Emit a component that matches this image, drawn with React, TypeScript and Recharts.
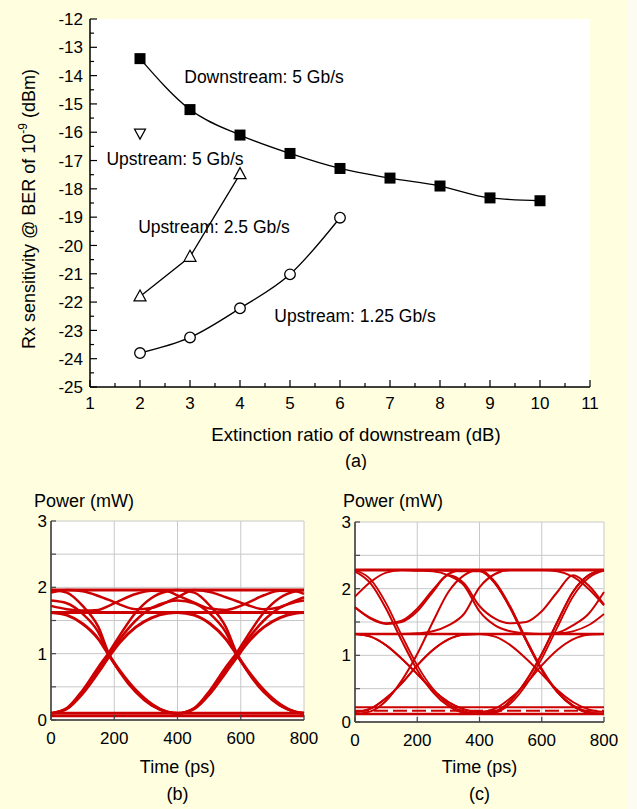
import React from "react";
import {
  ComposedChart,
  LineChart,
  Line,
  XAxis,
  YAxis,
  CartesianGrid,
  ReferenceDot,
  Label,
} from "recharts";

const FONT = '"Liberation Sans", Arial, Helvetica, sans-serif';
const BG = "#FFFFE0";
const RED = "#CC0000";

// ---------- (a) Rx sensitivity vs extinction ratio ----------
const erTicks = [1, 2, 3, 4, 5, 6, 7, 8, 9, 10, 11];
const erMinor = [1.5, 2.5, 3.5, 4.5, 5.5, 6.5, 7.5, 8.5, 9.5, 10.5];
const sensTicks = [-25, -24, -23, -22, -21, -20, -19, -18, -17, -16, -15, -14, -13, -12];
const sensMinor = [-24.5, -23.5, -22.5, -21.5, -20.5, -19.5, -18.5, -17.5, -16.5, -15.5, -14.5, -13.5, -12.5];

const downX = [2, 3, 4, 5, 6, 7, 8, 9, 10];
const down5 = [-13.4, -15.2, -16.1, -16.75, -17.28, -17.62, -17.9, -18.32, -18.42];
const up5X = [2];
const up5 = [-16.05];
const up25X = [2, 3, 4];
const up25 = [-21.8, -20.4, -17.48];
const up125X = [2, 3, 4, 5, 6];
const up125 = [-23.8, -23.25, -22.22, -21.02, -19.02];

// ---------- (b), (c) eye diagrams ----------
const eyeYTicks = [0, 0.5, 1, 1.5, 2, 2.5, 3];
const eyeYMajor = [0, 1, 2, 3];
const eyeXTicks = [0, 200, 400, 600, 800];

const tFlat = [0, 800];
const tB = [0, 50, 100, 150, 183, 218, 268, 318, 368, 400, 453, 503, 553, 588, 623, 673, 723, 773, 800];
const bCap162 = [0.1, 0.17, 0.4, 0.72, 0.95, 1.17, 1.4, 1.54, 1.61, 1.62, 1.58, 1.45, 1.22, 0.98, 0.74, 0.45, 0.24, 0.12, 0.1];
const bCup162 = [1.62, 1.58, 1.45, 1.22, 0.98, 0.74, 0.45, 0.24, 0.12, 0.1, 0.17, 0.4, 0.72, 0.95, 1.17, 1.4, 1.54, 1.61, 1.62];
const bCap196 = [0.1, 0.18, 0.45, 0.8, 1.02, 1.28, 1.62, 1.84, 1.94, 1.96, 1.92, 1.72, 1.4, 1.0, 0.72, 0.42, 0.22, 0.12, 0.1];
const bCup196 = [1.96, 1.92, 1.72, 1.4, 1.0, 0.72, 0.42, 0.22, 0.12, 0.1, 0.18, 0.45, 0.8, 1.02, 1.28, 1.62, 1.84, 1.94, 1.96];
const bCap180 = [0.1, 0.17, 0.42, 0.76, 0.98, 1.22, 1.5, 1.69, 1.78, 1.8, 1.76, 1.6, 1.32, 0.98, 0.73, 0.43, 0.23, 0.12, 0.1];
const bCup180 = [1.8, 1.76, 1.6, 1.32, 0.98, 0.73, 0.43, 0.23, 0.12, 0.1, 0.17, 0.42, 0.76, 0.98, 1.22, 1.5, 1.69, 1.78, 1.8];
const bWaveA = [1.92, 1.96, 1.94, 1.87, 1.81, 1.74, 1.67, 1.69, 1.78, 1.85, 1.96, 1.93, 1.85, 1.79, 1.73, 1.67, 1.7, 1.8, 1.85];
const bWaveB = [1.72, 1.67, 1.65, 1.66, 1.72, 1.8, 1.9, 1.95, 1.94, 1.88, 1.77, 1.68, 1.66, 1.7, 1.77, 1.88, 1.95, 1.94, 1.9];
const bTop = [1.96, 1.96];
const bInner = [1.62, 1.62];
const bLowA = [0.1, 0.1];
const bLowB = [0.06, 0.06];

const tC = [0, 50, 100, 150, 200, 250, 300, 350, 400, 450, 500, 550, 600, 650, 700, 750, 800];
const cCapTop = [0.12, 0.16, 0.32, 0.62, 1.02, 1.5, 1.95, 2.2, 2.28, 2.08, 1.7, 1.22, 0.78, 0.45, 0.24, 0.14, 0.12];
const cCupTop = [2.26, 2.08, 1.7, 1.22, 0.78, 0.45, 0.24, 0.14, 0.12, 0.16, 0.32, 0.62, 1.02, 1.5, 1.95, 2.2, 2.28];
const cCupTop2 = [2.28, 2.14, 1.78, 1.3, 0.85, 0.5, 0.27, 0.16, 0.13, 0.14, 0.28, 0.56, 0.95, 1.42, 1.88, 2.16, 2.27];
const cCapMid = [0.15, 0.2, 0.36, 0.58, 0.85, 1.08, 1.24, 1.31, 1.32, 1.28, 1.15, 0.95, 0.72, 0.48, 0.3, 0.19, 0.15];
const cCupMid = [1.32, 1.28, 1.15, 0.95, 0.72, 0.48, 0.3, 0.19, 0.15, 0.2, 0.36, 0.58, 0.85, 1.08, 1.24, 1.31, 1.32];
const cMidLowTop = [1.32, 1.28, 1.15, 0.95, 0.72, 0.48, 0.3, 0.19, 0.15, 0.16, 0.32, 0.62, 1.02, 1.5, 1.95, 2.2, 2.28];
const cLowMidHold = [0.15, 0.2, 0.36, 0.58, 0.85, 1.08, 1.24, 1.31, 1.32, 1.32, 1.32, 1.32, 1.32, 1.33, 1.36, 1.45, 1.62];
const cArcs = [1.72, 1.55, 1.47, 1.5, 1.66, 1.95, 2.2, 2.08, 1.74, 1.55, 1.48, 1.5, 1.66, 1.95, 2.2, 2.05, 1.76];
const cArcFall = [1.72, 1.56, 1.48, 1.52, 1.7, 1.98, 2.22, 2.28, 2.28, 2.1, 1.72, 1.24, 0.8, 0.46, 0.25, 0.15, 0.12];
const cMidUp = [1.32, 1.32, 1.32, 1.32, 1.33, 1.36, 1.45, 1.62, 2.02, 2.22, 2.28, 2.28, 2.28, 2.26, 2.18, 2.0, 1.75];
const cTopDown = [2.28, 2.28, 2.28, 2.28, 2.27, 2.26, 2.2, 2.05, 1.66, 1.45, 1.36, 1.33, 1.32, 1.34, 1.45, 1.62, 1.95];
const cLeftUp = [1.88, 2.1, 2.24, 2.28, 2.28, 2.28, 2.27, 2.26, 2.26, 2.08, 1.7, 1.22, 0.78, 0.45, 0.24, 0.14, 0.12];
const cTop = [2.28, 2.28];
const cMid = [1.32, 1.32];
const cLowA = [0.12, 0.12];
const cLowB = [0.17, 0.17];
const cLowC = [0.22, 0.22];

const eyeBTraces = [
  { t: tFlat, v: bLowA, w: 3 },
  { t: tFlat, v: bLowB, w: 2.5 },
  { t: tFlat, v: bTop, w: 3 },
  { t: tFlat, v: bInner, w: 3 },
  { t: tB, v: bWaveA, w: 2.5 },
  { t: tB, v: bWaveB, w: 2.5 },
  { t: tB, v: bCap162, w: 3 },
  { t: tB, v: bCup162, w: 3 },
  { t: tB, v: bCap196, w: 2.5 },
  { t: tB, v: bCup196, w: 2.5 },
  { t: tB, v: bCap180, w: 2.5 },
  { t: tB, v: bCup180, w: 2.5 },
];

const eyeCTraces = [
  { t: tFlat, v: cLowA, w: 2.5 },
  { t: tFlat, v: cLowB, w: 2, dash: "14 5" },
  { t: tFlat, v: cLowC, w: 2 },
  { t: tFlat, v: cTop, w: 3 },
  { t: tFlat, v: cMid, w: 2.5 },
  { t: tC, v: cCapTop, w: 2 },
  { t: tC, v: cCupTop, w: 2 },
  { t: tC, v: cCupTop2, w: 1.8 },
  { t: tC, v: cCapMid, w: 2 },
  { t: tC, v: cCupMid, w: 2 },
  { t: tC, v: cMidLowTop, w: 1.8 },
  { t: tC, v: cLowMidHold, w: 1.8 },
  { t: tC, v: cArcs, w: 2 },
  { t: tC, v: cArcFall, w: 2 },
  { t: tC, v: cMidUp, w: 2 },
  { t: tC, v: cTopDown, w: 2 },
  { t: tC, v: cLeftUp, w: 2 },
];

const pts = (xs: number[], ys: number[]) => xs.map((x, i) => ({ x, y: ys[i] }));
const tv = (ts: number[], vs: number[]) => ts.map((t, i) => ({ t, v: vs[i] }));
const byValue = (a: number, b: number) => a - b;

// ---------- tick renderers (inward ticks) ----------
function BottomTick(props: any) {
  const { x, y, payload, majors, gap, len = 7, minorLen = 4, color = "#000" } = props;
  const major = majors.includes(payload.value);
  const ay = y - gap;
  return (
    <g>
      <line x1={x} x2={x} y1={ay} y2={ay - (major ? len : minorLen)} stroke={color} strokeWidth={1.2} />
      {major && (
        <text x={x} y={y} dy="0.71em" textAnchor="middle" fontSize={props.fs} fontFamily={FONT} fill="#000">
          {payload.value}
        </text>
      )}
    </g>
  );
}

function LeftTick(props: any) {
  const { x, y, payload, majors, gap, len = 7, minorLen = 4, color = "#000" } = props;
  const major = majors.includes(payload.value);
  const ax = x + gap;
  return (
    <g>
      <line x1={ax} x2={ax + (major ? len : minorLen)} y1={y} y2={y} stroke={color} strokeWidth={1.2} />
      {major && (
        <text x={x} y={y} dy="0.36em" textAnchor="end" fontSize={props.fs} fontFamily={FONT} fill="#000">
          {payload.value}
        </text>
      )}
    </g>
  );
}

function TopTick(props: any) {
  const { x, y, payload, majors } = props;
  const major = majors.includes(payload.value);
  return <line x1={x} x2={x} y1={y} y2={y + (major ? 7 : 4)} stroke="#000" strokeWidth={1.2} />;
}

function RightTick(props: any) {
  const { x, y, payload, majors } = props;
  const major = majors.includes(payload.value);
  return <line x1={x} x2={x - (major ? 7 : 4)} y1={y} y2={y} stroke="#000" strokeWidth={1.2} />;
}

// ---------- markers ----------
const SquareDot = (p: any) => (
  <rect key={`sq${p.index}`} x={p.cx - 5.5} y={p.cy - 5.5} width={11} height={11} fill="#000" />
);
const UpTriangle = (p: any) => (
  <polygon
    key={`ut${p.index}`}
    points={`${p.cx},${p.cy - 6.5} ${p.cx - 6},${p.cy + 4.5} ${p.cx + 6},${p.cy + 4.5}`}
    fill="#fff"
    stroke="#000"
    strokeWidth={1.2}
  />
);
const DownTriangle = (p: any) => (
  <polygon
    key={`dt${p.index}`}
    points={`${p.cx - 5.5},${p.cy - 4.5} ${p.cx + 5.5},${p.cy - 4.5} ${p.cx},${p.cy + 5.5}`}
    fill="#fff"
    stroke="#000"
    strokeWidth={1.2}
  />
);
const CircleDot = (p: any) => (
  <circle key={`ci${p.index}`} cx={p.cx} cy={p.cy} r={5.3} fill="#fff" stroke="#000" strokeWidth={1.3} />
);

const noteStyle = { fontSize: 17.5, fill: "#000", fontFamily: FONT };

function SensitivityChart() {
  const erAll = [...erTicks, ...erMinor].sort(byValue);
  const sensAll = [...sensTicks, ...sensMinor].sort(byValue);
  const axisLine = { stroke: "#000", strokeWidth: 1.5 };
  return (
    <ComposedChart width={637} height={470} margin={{ top: 19, right: 47, bottom: 53, left: 0 }}>
      <CartesianGrid xAxisId="b" yAxisId="l" horizontal={false} vertical={false} fill="#fff" />
      <XAxis
        xAxisId="b"
        dataKey="x"
        type="number"
        domain={[1, 11]}
        ticks={erAll}
        interval={0}
        height={30}
        tickSize={0}
        tickMargin={10}
        tickLine={false}
        axisLine={axisLine}
        tick={<BottomTick majors={erTicks} gap={10} fs={17} />}
      >
        <Label
          content={() => (
            <g>
              <text x={356} y={441} textAnchor="middle" fontSize={18.6} fontFamily={FONT} fill="#000">
                Extinction ratio of downstream (dB)
              </text>
              <text x={356} y={467} textAnchor="middle" fontSize={18} fontFamily={FONT} fill="#000">
                (a)
              </text>
            </g>
          )}
        />
      </XAxis>
      <XAxis
        xAxisId="t"
        orientation="top"
        type="number"
        domain={[1, 11]}
        ticks={erAll}
        interval={0}
        height={0}
        tickSize={0}
        tickMargin={0}
        tickLine={false}
        axisLine={axisLine}
        tick={<TopTick majors={erTicks} />}
      />
      <YAxis
        yAxisId="l"
        type="number"
        domain={[-25, -12]}
        ticks={sensAll}
        interval={0}
        width={90}
        tickSize={0}
        tickMargin={7}
        tickLine={false}
        axisLine={axisLine}
        tick={<LeftTick majors={sensTicks} gap={7} fs={17} />}
      >
        <Label
          content={() => (
            <text
              transform="translate(35, 209) rotate(-90)"
              textAnchor="middle"
              fontSize={18}
              fontFamily={FONT}
              fill="#000"
            >
              Rx sensitivity @ BER of 10
              <tspan dy={-8} fontSize={12}>
                -9
              </tspan>
              <tspan dy={8}> (dBm)</tspan>
            </text>
          )}
        />
      </YAxis>
      <YAxis
        yAxisId="r"
        orientation="right"
        type="number"
        domain={[-25, -12]}
        ticks={sensAll}
        interval={0}
        width={0}
        tickSize={0}
        tickMargin={0}
        tickLine={false}
        axisLine={axisLine}
        tick={<RightTick majors={sensTicks} />}
      />
      <Line
        xAxisId="b"
        yAxisId="l"
        data={pts(downX, down5)}
        dataKey="y"
        type="monotone"
        stroke="#000"
        strokeWidth={1.3}
        dot={SquareDot}
        activeDot={false}
        isAnimationActive={false}
      />
      <Line
        xAxisId="b"
        yAxisId="l"
        data={pts(up25X, up25)}
        dataKey="y"
        type="linear"
        stroke="#000"
        strokeWidth={1.3}
        dot={UpTriangle}
        activeDot={false}
        isAnimationActive={false}
      />
      <Line
        xAxisId="b"
        yAxisId="l"
        data={pts(up125X, up125)}
        dataKey="y"
        type="monotone"
        stroke="#000"
        strokeWidth={1.3}
        dot={CircleDot}
        activeDot={false}
        isAnimationActive={false}
      />
      <Line
        xAxisId="b"
        yAxisId="l"
        data={pts(up5X, up5)}
        dataKey="y"
        stroke="#000"
        strokeWidth={1.3}
        dot={DownTriangle}
        activeDot={false}
        isAnimationActive={false}
      />
      <ReferenceDot xAxisId="b" yAxisId="l" x={4.48} y={-14.05} r={0} fill="none" stroke="none"
        label={{ value: "Downstream: 5 Gb/s", position: "center", ...noteStyle }} />
      <ReferenceDot xAxisId="b" yAxisId="l" x={2.7} y={-16.95} r={0} fill="none" stroke="none"
        label={{ value: "Upstream: 5 Gb/s", position: "center", ...noteStyle }} />
      <ReferenceDot xAxisId="b" yAxisId="l" x={3.48} y={-19.35} r={0} fill="none" stroke="none"
        label={{ value: "Upstream: 2.5 Gb/s", position: "center", ...noteStyle }} />
      <ReferenceDot xAxisId="b" yAxisId="l" x={6.3} y={-22.5} r={0} fill="none" stroke="none"
        label={{ value: "Upstream: 1.25 Gb/s", position: "center", ...noteStyle }} />
    </ComposedChart>
  );
}

type Trace = { t: number[]; v: number[]; w: number; dash?: string };

function EyeChart(props: {
  traces: Trace[];
  width: number;
  margin: { top: number; right: number; bottom: number; left: number };
  yWidth: number;
  frameColor: string;
  topColor: string;
  powerX: number;
  letter: string;
}) {
  const { traces, width, margin, yWidth, frameColor, topColor, powerX, letter } = props;
  const axisLine = { stroke: "#333", strokeWidth: 1.5 };
  return (
    <LineChart width={width} height={339} margin={margin}>
      <CartesianGrid xAxisId="b" yAxisId="l" stroke="#C8C8C8" fill="#fff" />
      <XAxis
        xAxisId="b"
        dataKey="t"
        type="number"
        domain={[0, 800]}
        ticks={eyeXTicks}
        interval={0}
        height={30}
        tickSize={0}
        tickMargin={12}
        tickLine={false}
        axisLine={axisLine}
        tick={<BottomTick majors={eyeXTicks} gap={12} len={5} minorLen={5} color="#444" fs={17} />}
      >
        <Label
          content={(p: any) => (
            <g>
              <text x={p.viewBox.x + p.viewBox.width / 2} y={303} textAnchor="middle" fontSize={18} fontFamily={FONT} fill="#000">
                Time (ps)
              </text>
              <text x={p.viewBox.x + p.viewBox.width / 2} y={330} textAnchor="middle" fontSize={18} fontFamily={FONT} fill="#000">
                {letter}
              </text>
            </g>
          )}
        />
      </XAxis>
      <XAxis
        xAxisId="t"
        orientation="top"
        type="number"
        domain={[0, 800]}
        height={0}
        tick={false}
        tickLine={false}
        axisLine={{ stroke: topColor, strokeWidth: 1.3 }}
      />
      <YAxis
        yAxisId="l"
        type="number"
        domain={[0, 3]}
        ticks={eyeYTicks}
        interval={0}
        width={yWidth}
        tickSize={0}
        tickMargin={4}
        tickLine={false}
        axisLine={axisLine}
        tick={<LeftTick majors={eyeYMajor} gap={4} len={5} minorLen={5} color="#444" fs={17} />}
      >
        <Label
          content={() => (
            <text x={powerX} y={37} textAnchor="start" fontSize={18} fontFamily={FONT} fill="#000">
              Power (mW)
            </text>
          )}
        />
      </YAxis>
      <YAxis
        yAxisId="r"
        orientation="right"
        type="number"
        domain={[0, 3]}
        width={0}
        tick={false}
        tickLine={false}
        axisLine={{ stroke: frameColor, strokeWidth: 1.3 }}
      />
      {traces.map((tr, i) => (
        <Line
          key={i}
          xAxisId="b"
          yAxisId="l"
          data={tv(tr.t, tr.v)}
          dataKey="v"
          type="monotone"
          stroke={RED}
          strokeWidth={tr.w}
          strokeDasharray={tr.dash}
          dot={false}
          activeDot={false}
          isAnimationActive={false}
        />
      ))}
    </LineChart>
  );
}

export default function App() {
  return (
    <div style={{ position: "relative", width: 637, height: 809, background: BG, overflow: "hidden", fontFamily: FONT }}>
      <style>{`body{margin:0;background:${BG};}`}</style>
      <div style={{ position: "absolute", left: 627, top: 0, width: 10, height: 809, background: "#FCFCF2" }} />
      <div style={{ position: "absolute", left: 0, top: 0 }}>
        <SensitivityChart />
      </div>
      <div style={{ position: "absolute", left: 0, top: 470 }}>
        <EyeChart
          traces={eyeBTraces}
          width={320}
          margin={{ top: 51, right: 16, bottom: 59, left: 0 }}
          yWidth={51}
          frameColor="#777"
          topColor="#B0B0B0"
          powerX={34}
          letter="(b)"
        />
      </div>
      <div style={{ position: "absolute", left: 300, top: 470 }}>
        <EyeChart
          traces={eyeCTraces}
          width={330}
          margin={{ top: 52, right: 26, bottom: 57, left: 0 }}
          yWidth={55}
          frameColor="#333"
          topColor="#222"
          powerX={43}
          letter="(c)"
        />
      </div>
    </div>
  );
}
